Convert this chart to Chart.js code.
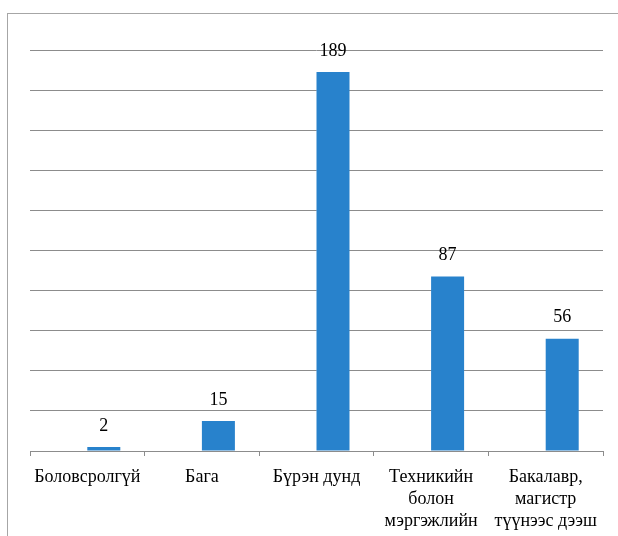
<!DOCTYPE html>
<html>
<head>
<meta charset="utf-8">
<script src="https://cdn.jsdelivr.net/npm/chart.js@4/dist/chart.umd.min.js"></script>
<style>
  html, body { margin: 0; padding: 0; background: #fff; overflow: hidden; }
  #wrap { position: relative; width: 618px; height: 536px; overflow: hidden; }
  #frame { position: absolute; left: 7px; top: 13px; width: 700px; height: 600px;
           border-left: 1px solid #a6a6a6; border-top: 1px solid #a6a6a6; }
  #c { position: absolute; left: 0; top: 0; }
</style>
</head>
<body>
<div id="wrap">
  <div id="frame"></div>
  <canvas id="c" width="618" height="536"></canvas>
</div>
<script>
const categories = [
    'Боловсролгүй',
    'Бага',
    'Бүрэн дунд',
    ['Техникийн', 'болон', 'мэргэжлийн'],
    ['Бакалавр,', 'магистр', 'түүнээс дээш']
];
const counts = [2, 15, 189, 87, 56];
const emptySeries = [null, null, null, null, null];

const serif = '"Liberation Serif", "Times New Roman", serif';

const valueLabels = {
    id: 'valueLabels',
    afterDatasetsDraw(chart) {
        const ctx = chart.ctx;
        const meta = chart.getDatasetMeta(1);
        ctx.save();
        ctx.fillStyle = '#000';
        ctx.font = '18px ' + serif;
        ctx.textAlign = 'center';
        ctx.textBaseline = 'bottom';
        meta.data.forEach((bar, i) => {
            ctx.fillText(String(counts[i]), bar.x, bar.y - 12);
        });
        ctx.restore();
    }
};

new Chart(document.getElementById('c').getContext('2d'), {
    type: 'bar',
    data: {
        labels: categories,
        datasets: [
            { data: emptySeries, backgroundColor: 'rgba(0,0,0,0)' },
            { data: counts, backgroundColor: '#2882cc' }
        ]
    },
    options: {
        responsive: false,
        animation: false,
        events: [],
        categoryPercentage: 0.576,
        barPercentage: 1,
        layout: { padding: { left: 30, right: 15, top: 50, bottom: 0 } },
        plugins: { legend: { display: false }, tooltip: { enabled: false } },
        scales: {
            x: {
                afterFit(scale) { scale.height = 85; },
                grid: { offset: true, drawOnChartArea: false, drawTicks: true, tickLength: 5, color: '#8c8c8c' },
                border: { display: true, color: '#8c8c8c' },
                ticks: {
                    color: '#000',
                    font: { family: serif, size: 18, lineHeight: 22 / 18 },
                    padding: 10,
                    maxRotation: 0,
                    minRotation: 0,
                    autoSkip: false
                }
            },
            y: {
                min: 0,
                max: 200,
                ticks: { stepSize: 20, display: false },
                grid: { color: '#8c8c8c', drawTicks: false },
                border: { display: false }
            }
        }
    },
    plugins: [valueLabels]
});
</script>
</body>
</html>
